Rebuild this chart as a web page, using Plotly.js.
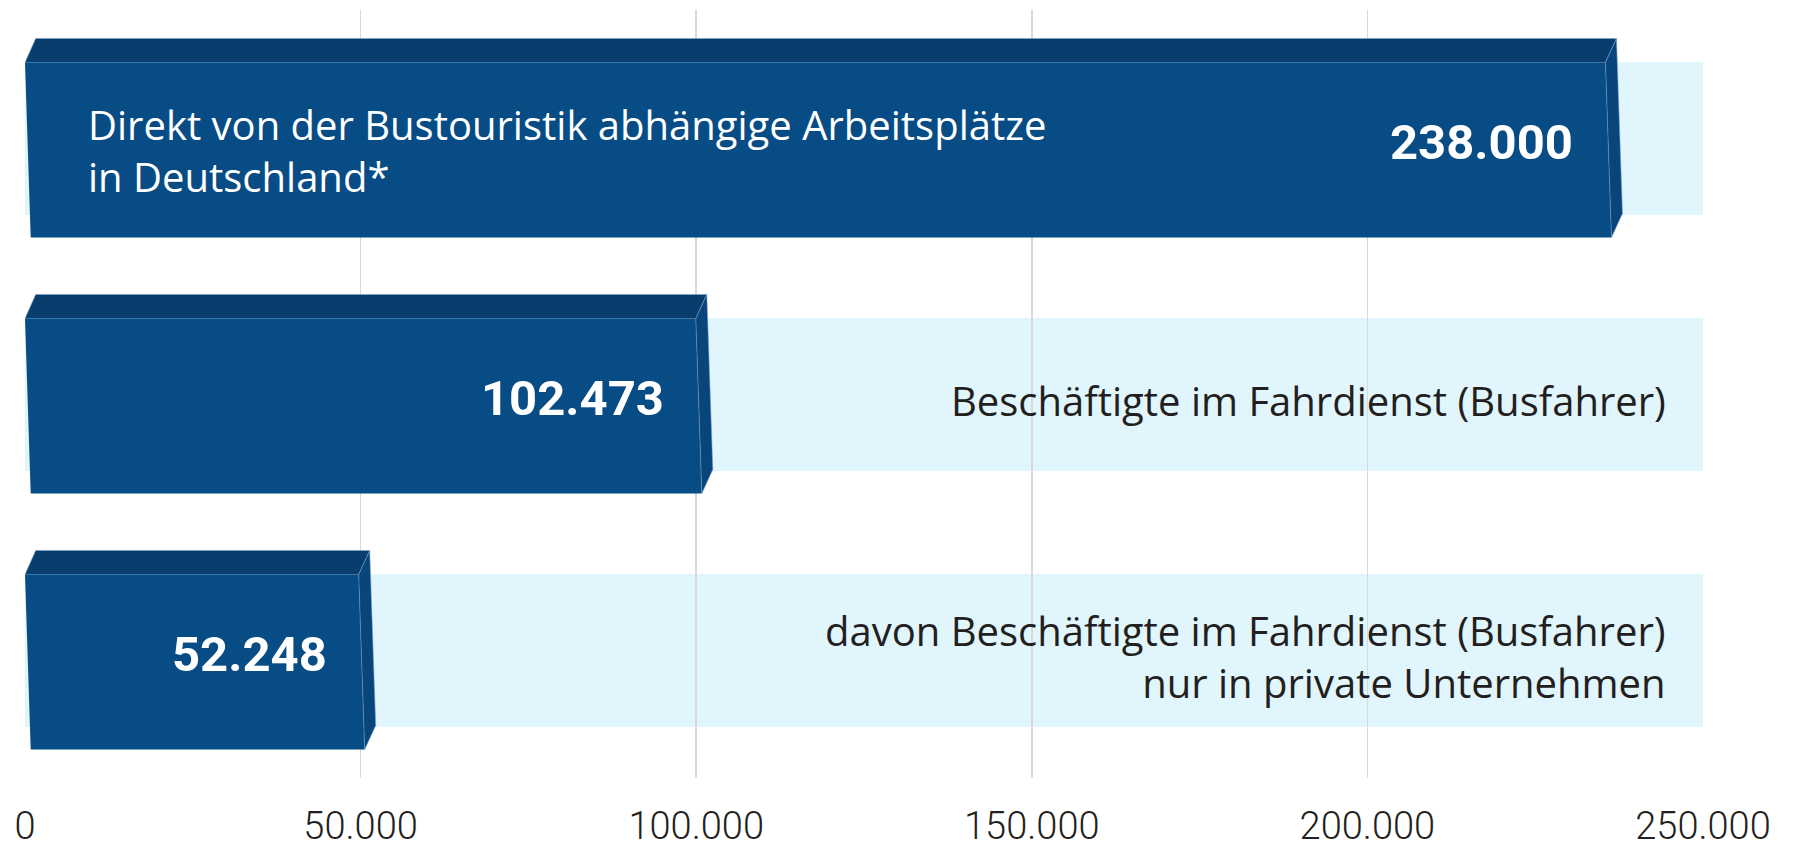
<!DOCTYPE html>
<html>
<head>
<meta charset="utf-8">
<script src="https://cdn.plot.ly/plotly-3.0.1.min.js"></script>
<style>
html,body{margin:0;padding:0;background:#fff;}
#chart{width:1796px;height:850px;}
</style>
</head>
<body>
<div id="chart"></div>
<script>
// ---- data ----
const categories = [
  'Direkt von der Bustouristik abhängige Arbeitsplätze<br>in Deutschland*',
  'Beschäftigte im Fahrdienst (Busfahrer)',
  'davon Beschäftigte im Fahrdienst (Busfahrer)<br>nur in private Unternehmen'
];
const values = [238000, 102473, 52248];
const tickValues = [0, 50000, 100000, 150000, 200000, 250000];
const axisMax = 250000;

// ---- layout constants ----
const W = 1796, H = 850;
const M = {l: 25, r: 93, t: 10, b: 72};
const ux = axisMax / (W - M.l - M.r);      // data units per px (x)
const uy = 3 / (H - M.t - M.b);            // data units per px (y)
const FONT = 'Roboto, "Open Sans", sans-serif';
const LFONT = '"Open Sans", Roboto, sans-serif';
const TXT = '#231f20';

function fmt(v){ return String(Math.round(v)).replace(/\B(?=(\d{3})+(?!\d))/g, '.'); }

const traces = [];
const shapes = [];
const annotations = [];

function polyTrace(pts, fill, line){
  const xs = pts.map(p => p[0]); const ys = pts.map(p => p[1]);
  xs.push(xs[0]); ys.push(ys[0]);
  return {type:'scatter', mode:'lines', x:xs, y:ys, fill:'toself', fillcolor:fill,
          line:{color:line || fill, width: line ? 1 : 0}, hoverinfo:'skip', showlegend:false};
}

values.forEach((v, i) => {
  const P = (xpx, ypx, base) => [base + xpx * ux, i + ypx * uy];
  // light background band
  shapes.push({type:'rect', layer:'below', xref:'x', yref:'y', x0:0, x1:axisMax,
               y0: i - 76 * uy, y1: i + 77 * uy, fillcolor:'#e0f5fc', line:{width:0}});
  // top face
  traces.push(polyTrace([P(0,-75.5,0), P(10.7,-99.5,0), P(-6,-99.5,v), P(-17,-75.5,v)],
              '#083d6e', 'rgba(120,160,200,0.55)'));
  // front face
  traces.push(polyTrace([P(0,-75.5,0), P(-17,-75.5,v), P(-11,99.5,v), P(5.7,99.5,0)],
              '#074c85'));
  // side face
  traces.push(polyTrace([P(-17,-75.5,v), P(-6,-99.5,v), P(0,75.5,v), P(-11,99.5,v)],
              '#07457b', 'rgba(120,160,200,0.55)'));
  // value label
  annotations.push({x:v, y:i, xref:'x', yref:'y', xanchor:'right', yanchor:'middle',
    xshift:-47, yshift:-4, showarrow:false, text:fmt(v),
    font:{family:FONT, size:49, weight:700, color:'#ffffff'}});
  // category label
  if (i === 0) {
    annotations.push({x:0, y:i, xref:'x', yref:'y', xanchor:'left', yanchor:'middle',
      xshift:61, yshift:-12, align:'left', showarrow:false, text:categories[i],
      font:{family:LFONT, size:40, color:'#ffffff'}});
  } else {
    annotations.push({x:axisMax, y:i, xref:'x', yref:'y', xanchor:'right', yanchor:'middle',
      xshift:-35, yshift:-6, align:'right', showarrow:false, text:categories[i],
      font:{family:LFONT, size:40, color:TXT}});
  }
});

const layout = {
  width:W, height:H, margin:M, paper_bgcolor:'#fff', plot_bgcolor:'#fff',
  showlegend:false,
  xaxis:{range:[0, axisMax], tickvals:tickValues, ticktext:tickValues.map(fmt),
         showgrid:true, gridcolor:'#d9d9d9', gridwidth:1.5, zeroline:false, showline:false,
         ticks:'', ticklabelstandoff:22, automargin:false, fixedrange:true,
         tickfont:{family:FONT, size:38, weight:300, color:TXT}},
  yaxis:{range:[2.5, -0.5], showgrid:false, zeroline:false, showline:false,
         showticklabels:false, ticks:'', automargin:false, fixedrange:true},
  shapes:shapes, annotations:annotations
};

Plotly.newPlot('chart', traces, layout, {displayModeBar:false, staticPlot:true});
</script>
</body>
</html>
